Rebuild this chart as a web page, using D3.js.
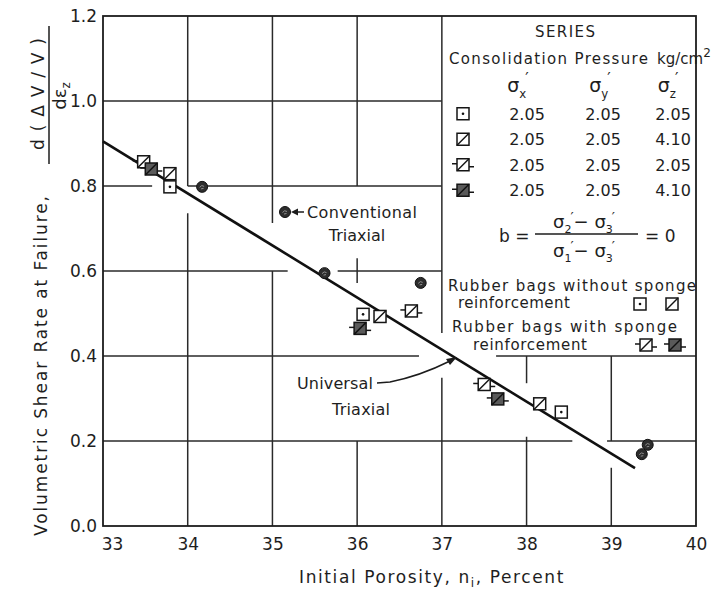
<!DOCTYPE html>
<html>
<head>
<meta charset="utf-8">
<script src="https://cdn.jsdelivr.net/npm/d3@7"></script>
<style>
  body { margin: 0; background: #fff; }
  svg { display: block; }
  text { font-family: "DejaVu Sans", "Liberation Sans", sans-serif; fill: #1e1e1e; }
</style>
</head>
<body>
<svg id="chart" width="718" height="592"></svg>
<script>
// Axis ticks
const porosityTicks = [33, 34, 35, 36, 37, 38, 39, 40];
const rateTicks = [0.0, 0.2, 0.4, 0.6, 0.8, 1.0, 1.2];
const rateTickLabels = ["0.0", "0.2", "0.4", "0.6", "0.8", "1.0", "1.2"];

// Rubber bags without sponge reinforcement
const plainEqualPorosity = [33.79, 36.07, 38.41];   // σx' = σy' = σz' = 2.05
const plainEqualRate     = [0.798, 0.498, 0.268];
const plainHighZPorosity = [33.79, 36.27, 38.155];  // σz' = 4.10
const plainHighZRate     = [0.829, 0.493, 0.2875];

// Rubber bags with sponge reinforcement
const spongeEqualPorosity = [33.48, 36.64, 37.50];  // σz' = 2.05
const spongeEqualRate     = [0.857, 0.506, 0.333];
const spongeHighZPorosity = [33.57, 36.035, 37.66]; // σz' = 4.10
const spongeHighZRate     = [0.840, 0.465, 0.299];

// Conventional triaxial tests
const conventionalPorosity = [34.17, 35.615, 36.75, 39.36, 39.43];
const conventionalRate     = [0.798, 0.595, 0.572, 0.169, 0.191];

// Universal triaxial trend line (end points)
const universalPorosity = [33.0, 39.28];
const universalRate     = [0.905, 0.136];

// Legend table: consolidation pressures, kg/cm²
const legendKinds  = ["plainEqual", "plainHighZ", "spongeEqual", "spongeHighZ"];
const legendSigmaX = ["2.05", "2.05", "2.05", "2.05"];
const legendSigmaY = ["2.05", "2.05", "2.05", "2.05"];
const legendSigmaZ = ["2.05", "4.10", "2.05", "4.10"];

// Hand-ruled grid pieces in data units: [x, yFrom, yTo] and [y, xFrom, xTo]
const gridVertical = [
  [34, 1.2, 0.8], [34, 0.736, 0],
  [35, 1.2, 0.713], [35, 0.6, 0],
  [36, 1.2, 0.8], [36, 0.63, 0.572], [36, 0.2, 0],
  [37, 1.2, 0.454], [37, 0.349, 0],
  [38, 0.4, 0.336], [38, 0.21, 0],
  [39, 0.4, 0.2], [39, 0.137, 0]
];
const gridHorizontal = [
  [1.0, 33, 37],
  [0.8, 33, 33.58], [0.8, 34, 37],
  [0.6, 33, 35.18], [0.6, 35.77, 37],
  [0.4, 33, 36.73], [0.4, 37.64, 40],
  [0.2, 33, 38.54], [0.2, 38.95, 40]
];

const svg = d3.select("#chart");
const ink = "#1c1c1c";

const x = d3.scaleLinear().domain([33, 40]).range([103, 696]);
const y = d3.scaleLinear().domain([0, 1.2]).range([526, 16]);

// Grid
const grid = svg.append("g").attr("stroke", "#2a2a2a").attr("stroke-width", 1.5).attr("fill", "none");
grid.selectAll("line.v").data(gridVertical).join("line").attr("class", "v")
  .attr("x1", d => x(d[0])).attr("x2", d => x(d[0]))
  .attr("y1", d => y(d[1])).attr("y2", d => y(d[2]));
grid.selectAll("line.h").data(gridHorizontal).join("line").attr("class", "h")
  .attr("y1", d => y(d[0])).attr("y2", d => y(d[0]))
  .attr("x1", d => x(d[1])).attr("x2", d => x(d[2]));

// Frame
svg.append("rect")
  .attr("x", x(33)).attr("y", y(1.2))
  .attr("width", x(40) - x(33)).attr("height", y(0) - y(1.2))
  .attr("fill", "none").attr("stroke", ink).attr("stroke-width", 1.8);

// Axes (labels only; the frame and grid carry the lines)
const xAxis = svg.append("g")
  .attr("transform", `translate(0,${y(0)})`)
  .call(d3.axisBottom(x).tickValues(porosityTicks).tickSize(0).tickPadding(12).tickFormat(d3.format("d")));
xAxis.select(".domain").remove();
xAxis.selectAll(".tick text")
  .attr("font-family", "DejaVu Sans, sans-serif").attr("font-size", 17).attr("fill", ink)
  .attr("dx", d => d === 33 ? 9 : 0);

const yAxis = svg.append("g")
  .attr("transform", `translate(${x(33)},0)`)
  .call(d3.axisLeft(y).tickValues(rateTicks).tickSize(0).tickPadding(6)
    .tickFormat((d, i) => rateTickLabels[i]));
yAxis.select(".domain").remove();
yAxis.selectAll(".tick text")
  .attr("font-family", "DejaVu Sans, sans-serif").attr("font-size", 17).attr("fill", ink);

// Universal triaxial trend line
svg.append("line")
  .attr("x1", x(universalPorosity[0])).attr("y1", y(universalRate[0]))
  .attr("x2", x(universalPorosity[1])).attr("y2", y(universalRate[1]))
  .attr("stroke", "#111").attr("stroke-width", 2.6);

// Marker shapes
function drawMarker(g, kind) {
  const h = 6;
  g.attr("stroke", "#151515").attr("stroke-width", 1.5);
  if (kind === "spongeEqual" || kind === "spongeHighZ") {
    g.append("line").attr("x1", -11).attr("x2", -h).attr("y1", -1).attr("y2", -1);
    g.append("line").attr("x1", h).attr("x2", 11).attr("y1", 2).attr("y2", 2);
  }
  g.append("rect").attr("x", -h).attr("y", -h).attr("width", 2 * h).attr("height", 2 * h)
    .attr("fill", kind === "spongeHighZ" ? "#5a5a5a" : "#fff");
  if (kind === "plainEqual") {
    g.append("circle").attr("r", 1.3).attr("fill", "#111").attr("stroke", "none");
  } else {
    g.append("line").attr("x1", -h).attr("y1", h).attr("x2", h).attr("y2", -h)
      .attr("stroke", kind === "spongeHighZ" ? "#111" : "#151515");
  }
}

function drawConventional(g) {
  g.append("circle").attr("r", 5.5).attr("fill", "#2d2d2d").attr("stroke", "#111").attr("stroke-width", 1);
  g.append("path").attr("d", "M-2.5,0.5 Q-0.5,-2.5 2,-0.5 M-1,2 L1.5,1.5")
    .attr("fill", "none").attr("stroke", "#9a9a9a").attr("stroke-width", 0.9);
}

const seriesList = [
  { kind: "plainEqual",  px: plainEqualPorosity,  py: plainEqualRate },
  { kind: "plainHighZ",  px: plainHighZPorosity,  py: plainHighZRate },
  { kind: "spongeEqual", px: spongeEqualPorosity, py: spongeEqualRate },
  { kind: "spongeHighZ", px: spongeHighZPorosity, py: spongeHighZRate }
];

// Conventional triaxial points
svg.append("g").selectAll("g").data(d3.zip(conventionalPorosity, conventionalRate)).join("g")
  .attr("transform", d => `translate(${x(d[0])},${y(d[1])})`)
  .each(function () { drawConventional(d3.select(this)); });

// Universal triaxial points
seriesList.forEach(s => {
  svg.append("g").selectAll("g").data(d3.zip(s.px, s.py)).join("g")
    .attr("transform", d => `translate(${x(d[0])},${y(d[1])})`)
    .each(function () { drawMarker(d3.select(this), s.kind); });
});

// Annotation: conventional triaxial key
const conv = svg.append("g");
drawConventional(conv.append("g").attr("transform", "translate(285,212)"));
conv.append("path").attr("d", "M291,212 L298,208.5 L298,215.5 Z").attr("fill", ink);
conv.append("line").attr("x1", 297).attr("x2", 304).attr("y1", 212).attr("y2", 212)
  .attr("stroke", ink).attr("stroke-width", 1.5);
conv.append("text").attr("x", 307).attr("y", 218).attr("font-size", 16)
  .attr("textLength", 110).attr("lengthAdjust", "spacing").text("Conventional");
conv.append("text").attr("x", 357).attr("y", 241).attr("font-size", 16)
  .attr("text-anchor", "middle").text("Triaxial");

// Annotation: universal triaxial leader
const uni = svg.append("g");
uni.append("text").attr("x", 297).attr("y", 389).attr("font-size", 16)
  .attr("textLength", 76).attr("lengthAdjust", "spacing").text("Universal");
uni.append("text").attr("x", 332).attr("y", 415).attr("font-size", 16)
  .attr("textLength", 58).attr("lengthAdjust", "spacing").text("Triaxial");
uni.append("path").attr("d", "M377,383 L390,382 Q420,376 450,361")
  .attr("fill", "none").attr("stroke", ink).attr("stroke-width", 1.5);
uni.append("path").attr("d", "M457,357 L446,359 L450,365 Z").attr("fill", ink);

// Legend
const lg = svg.append("g");
lg.append("text").attr("x", 565).attr("y", 37).attr("font-size", 15).attr("text-anchor", "middle")
  .attr("textLength", 60).attr("lengthAdjust", "spacing").text("SERIES");
lg.append("text").attr("x", 449).attr("y", 64).attr("font-size", 15)
  .attr("textLength", 199).attr("lengthAdjust", "spacing").text("Consolidation Pressure");
const unit = lg.append("text").attr("x", 657).attr("y", 64).attr("font-size", 15);
unit.append("tspan").text("kg/cm");
unit.append("tspan").attr("dy", -7).attr("font-size", 12).text("2");

function sigmaLabel(parent, cx, baseline, sub, size) {
  const t = parent.append("text").attr("x", cx).attr("y", baseline).attr("font-size", size)
    .attr("text-anchor", "middle");
  t.append("tspan").text("σ");
  t.append("tspan").attr("font-size", size * 0.62).attr("dy", size * 0.3).text(sub);
  t.append("tspan").attr("font-size", size * 0.8).attr("dy", -size * 0.7).attr("dx", -1).text("′");
  return t;
}
sigmaLabel(lg, 518, 92, "x", 19);
sigmaLabel(lg, 600, 92, "y", 19);
sigmaLabel(lg, 668, 92, "z", 19);

const rowY = d3.scaleBand().domain(legendKinds).range([101, 203]);
legendKinds.forEach((k, i) => {
  const cy = rowY(k) + rowY.bandwidth() / 2;
  drawMarker(lg.append("g").attr("transform", `translate(463,${cy})`), k);
  [[527, legendSigmaX[i]], [603, legendSigmaY[i]], [673, legendSigmaZ[i]]].forEach(([cx, v]) => {
    lg.append("text").attr("x", cx).attr("y", cy + 6).attr("font-size", 16)
      .attr("text-anchor", "middle").text(v);
  });
});

// b-parameter
lg.append("text").attr("x", 499).attr("y", 242).attr("font-size", 17).text("b =");
function sigmaPair(cx, baseline, a, b) {
  const t = lg.append("text").attr("x", cx).attr("y", baseline).attr("font-size", 18)
    .attr("text-anchor", "middle");
  t.append("tspan").text("σ");
  t.append("tspan").attr("font-size", 11).attr("dy", 5).text(a);
  t.append("tspan").attr("font-size", 14).attr("dy", -11).attr("dx", -1).text("′");
  t.append("tspan").attr("dy", 6).attr("font-size", 18).text("− σ");
  t.append("tspan").attr("font-size", 11).attr("dy", 5).text(b);
  t.append("tspan").attr("font-size", 14).attr("dy", -11).attr("dx", -1).text("′");
}
sigmaPair(584, 228, "2", "3");
sigmaPair(584, 257, "1", "3");
lg.append("line").attr("x1", 535).attr("x2", 638).attr("y1", 234).attr("y2", 234)
  .attr("stroke", ink).attr("stroke-width", 1.5);
lg.append("text").attr("x", 645).attr("y", 242).attr("font-size", 17).text("= 0");

lg.append("text").attr("x", 448).attr("y", 291).attr("font-size", 15)
  .attr("textLength", 248).attr("lengthAdjust", "spacing").text("Rubber bags without sponge");
lg.append("text").attr("x", 458).attr("y", 308).attr("font-size", 15)
  .attr("textLength", 112).attr("lengthAdjust", "spacing").text("reinforcement");
drawMarker(lg.append("g").attr("transform", "translate(640,304)"), "plainEqual");
drawMarker(lg.append("g").attr("transform", "translate(672,304)"), "plainHighZ");
lg.append("text").attr("x", 452).attr("y", 332).attr("font-size", 15)
  .attr("textLength", 225).attr("lengthAdjust", "spacing").text("Rubber bags with sponge");
lg.append("text").attr("x", 473).attr("y", 350).attr("font-size", 15)
  .attr("textLength", 114).attr("lengthAdjust", "spacing").text("reinforcement");
drawMarker(lg.append("g").attr("transform", "translate(646,345)"), "spongeEqual");
drawMarker(lg.append("g").attr("transform", "translate(675,345)"), "spongeHighZ");

// Axis titles
const xt = svg.append("text").attr("x", 432).attr("y", 583).attr("font-size", 17)
  .attr("text-anchor", "middle").attr("letter-spacing", 1.6);
xt.append("tspan").text("Initial Porosity, n");
xt.append("tspan").attr("font-size", 12).attr("dy", 4).text("i");
xt.append("tspan").attr("dy", -4).text(", Percent");

const yt = svg.append("g").attr("transform", "rotate(-90)");
yt.append("text").attr("x", -366).attr("y", 47).attr("font-size", 17)
  .attr("text-anchor", "middle").attr("textLength", 340).attr("lengthAdjust", "spacing")
  .text("Volumetric Shear Rate at Failure,");
yt.append("text").attr("x", -94).attr("y", 44).attr("font-size", 17)
  .attr("text-anchor", "middle").attr("textLength", 112).attr("lengthAdjust", "spacing")
  .text("d(ΔV/V)");
yt.append("line").attr("x1", -164).attr("x2", -26).attr("y1", 49).attr("y2", 49)
  .attr("stroke", ink).attr("stroke-width", 1.5);
const den = yt.append("text").attr("x", -96).attr("y", 66).attr("font-size", 18)
  .attr("text-anchor", "middle");
den.append("tspan").text("dε");
den.append("tspan").attr("font-size", 12).attr("dy", 4).text("z");
</script>
</body>
</html>
